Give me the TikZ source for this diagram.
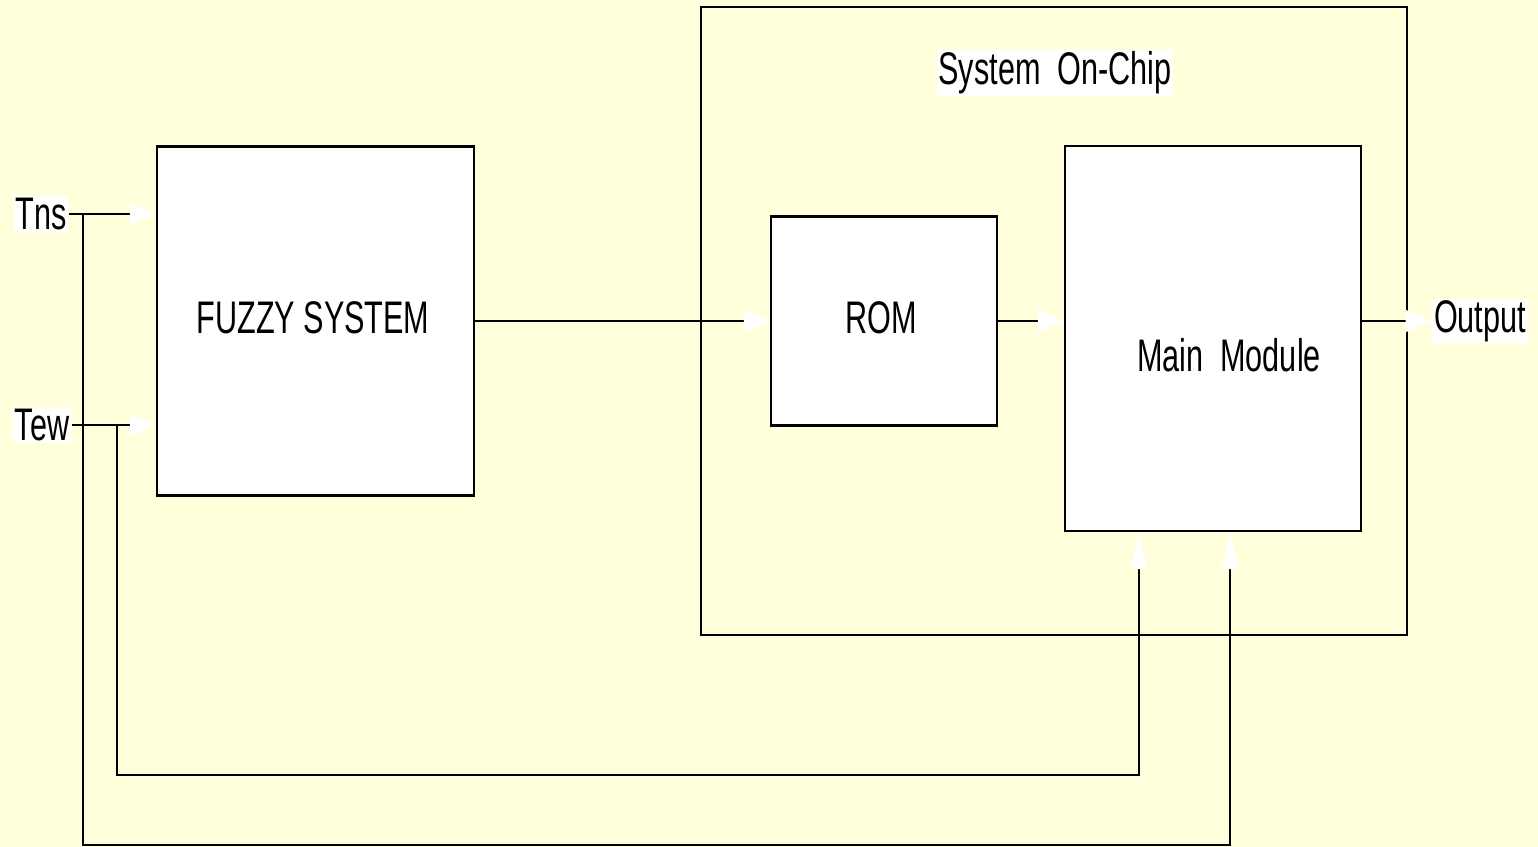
\documentclass[tikz,border=0pt]{standalone}
\usepackage{fontspec}
\setmainfont{Liberation Sans}
\usetikzlibrary{arrows.meta}
\definecolor{fondo}{HTML}{FFFFDC}
\newcommand{\angosto}[1]{\scalebox{0.67}[1]{#1}}
\tikzset{
  bloque/.style={draw, line width=0.6pt, fill=white, rectangle},
  texto/.style={font=\fontsize{13}{15}\selectfont, inner sep=0.5pt},
  etiqueta/.style={texto, fill=white},
  linea/.style={line width=0.6pt},
  flecha/.style={linea, -{Triangle[length=2.6mm,width=2.2mm,color=white]}},
  flechav/.style={linea, -{Triangle[length=3.7mm,width=1.6mm,color=white]}}
}
\begin{document}
\begin{tikzpicture}
                % Fondo
                \fill[fondo] (0,0) rectangle (15.38,8.47);
                \useasboundingbox (0,0) rectangle (15.38,8.47);

                % Bloques
                \node[draw, line width=0.6pt, minimum width=7.06cm, minimum height=6.28cm] (soc) at (10.54,5.26) {};
                \node[bloque, minimum width=3.17cm, minimum height=3.49cm] (fuzzy) at (3.155,5.26) {};
                \node[bloque, minimum width=2.26cm, minimum height=2.09cm] (rom) at (8.84,5.26) {};
                \node[bloque, minimum width=2.96cm, minimum height=3.85cm] (main) at (12.13,5.085) {};

                % Textos
                \node[texto] (fuzzylbl) at (3.13,5.29) {\angosto{FUZZY SYSTEM}};
                \node[texto] (romlbl) at (8.81,5.29) {\angosto{ROM}};
                \node[texto] (mainlbl) at (12.29,4.92) {\angosto{Main\ \ Module}};
                \node[etiqueta] (soclbl) at (10.55,7.74) {\angosto{System\ \ On-Chip}};
                \node[etiqueta] (tns) at (0.41,6.33) {\angosto{Tns}};
                \node[etiqueta] (tew) at (0.42,4.22) {\angosto{Tew}};
                \node[etiqueta] (output) at (14.80,5.26) {\angosto{Output}};

                % Entradas
                \draw[flecha] (tns.east) -- (fuzzy.west |- tns.east);
                \draw[flecha] (tew.east) -- (fuzzy.west |- tew.east);
                \coordinate (j1) at (0.83,6.33);
                \coordinate (j2) at (1.17,4.22);
                \coordinate (b1) at (0.83,0.02);
                \coordinate (b2) at (1.17,0.72);
                \coordinate (m1) at ([xshift=-7.4mm]main.south);
                \coordinate (m2) at ([xshift=1.7mm]main.south);
                \draw[flechav] (j1) -- (b1) -| (m2);
                \draw[flechav] (j2) -- (b2) -| (m1);

                % Conexiones
                \draw[flecha] (fuzzy.east) -- (rom.west);
                \draw[flecha] (rom.east) -- (main.west |- rom.east);
                \draw[flecha] (main.east |- output.west) -- (output.west);

\end{tikzpicture}
\end{document}
